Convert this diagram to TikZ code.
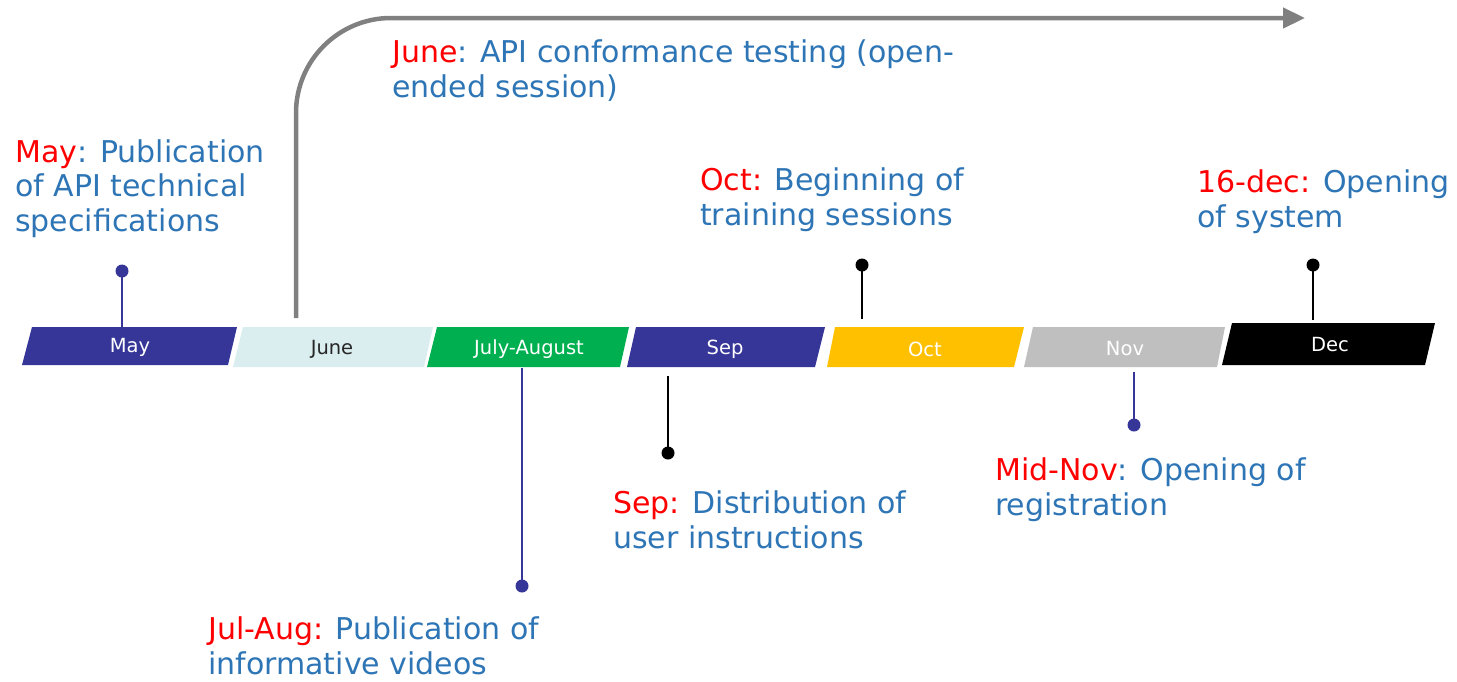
\documentclass[tikz,border=0pt]{standalone}
\usepackage{fontspec}
\setmainfont{DejaVu Sans}
\usetikzlibrary{arrows.meta}
\definecolor{navy}{HTML}{363699}
\definecolor{txtblue}{HTML}{2E75B6}
\definecolor{mred}{HTML}{FF0000}
\definecolor{green}{HTML}{00B050}
\definecolor{yellow}{HTML}{FFC000}
\definecolor{lightc}{HTML}{DAEDEF}
\definecolor{grayc}{HTML}{BFBFBF}
\definecolor{arrowgray}{HTML}{808080}
\newcommand{\mon}[1]{\textcolor{mred}{#1}}
\tikzset{
  lbl/.style={anchor=base west, inner sep=0pt, align=left, text=txtblue,
    font={\fontsize{30}{34.5}\selectfont}},
  monlbl/.style={inner sep=0pt, font={\fontsize{19.5}{22}\selectfont}, text=white},
  dotnav/.style={circle, fill=navy, inner sep=0pt, minimum size=13pt},
  dotblk/.style={circle, fill=black, inner sep=0pt, minimum size=13pt},
  stemnav/.style={draw=navy, line width=2.4pt},
  stemblk/.style={draw=black, line width=2.8pt},
}
\begin{document}
\begin{tikzpicture}[x=1pt, y=-1pt]
\useasboundingbox (0,0) rectangle (1457,681);
% bar segments
\fill[navy]   (32,327) -- (237,327) -- (228,365) -- (22,365) -- cycle;
\fill[lightc] (243,327) -- (433,327) -- (424,367) -- (233,367) -- cycle;
\fill[green]  (437,327) -- (629,327) -- (620,367) -- (427,367) -- cycle;
\fill[navy]   (636,327) -- (825,327) -- (815,367) -- (627,367) -- cycle;
\fill[yellow] (835,327) -- (1024,327) -- (1014,367) -- (827,367) -- cycle;
\fill[grayc]  (1033,327) -- (1225,327) -- (1217,367) -- (1024,367) -- cycle;
\fill[black]  (1232,323) -- (1435,323) -- (1425,365) -- (1222,365) -- cycle;
\node[monlbl] (mMay) at (130,347) {May};
\node[monlbl, text=black!85] (mJun) at (332,349) {June};
\node[monlbl] (mJul) at (529,349) {July-August};
\node[monlbl] (mSep) at (725,349) {Sep};
\node[monlbl] (mOct) at (925,349) {Oct};
\node[monlbl] (mNov) at (1125,349) {Nov};
\node[monlbl] (mDec) at (1330,345) {Dec};
% attachment points on the bar
\coordinate (mayTop) at (122,327);
\coordinate (junTop) at (296,318);
\coordinate (julBot) at (522,368);
\coordinate (sepBot) at (668,376);
\coordinate (octTop) at (862,319);
\coordinate (novBot) at (1134,372);
\coordinate (decTop) at (1313,320);
\coordinate (arrCorner) at (296,18);
\coordinate (arrEnd) at (1305,18);
% dots
\node[dotnav] (mayDot) at (122,271) {};
\node[dotnav] (julDot) at (522,586) {};
\node[dotblk] (sepDot) at (668,453) {};
\node[dotblk] (octDot) at (862,265) {};
\node[dotnav] (novDot) at (1134,425) {};
\node[dotblk] (decDot) at (1313,265) {};
% stems
\draw[stemnav] (mayDot.center) -- (mayTop);
\draw[stemnav] (julBot) -- (julDot.center);
\draw[stemblk] (sepBot) -- (sepDot.center);
\draw[stemblk] (octDot.center) -- (octTop);
\draw[stemnav] (novBot) -- (novDot.center);
\draw[stemblk] (decDot.center) -- (decTop);
% June arrow
\draw[arrowgray, line width=4.5pt, rounded corners=95pt,
  -{Triangle[length=22pt, width=20pt]}] (junTop) -- (arrCorner) -- (arrEnd);
% labels (anchor = baseline of the last line)
\node[lbl] (tMay) at (15,231) {\mon{May}: Publication\\of API technical\\specifications};
\node[lbl] (tJun) at (392,97) {\mon{June}: API conformance testing (open-\\ended session)};
\node[lbl] (tOct) at (700,225) {\mon{Oct:} Beginning of\\training sessions};
\node[lbl] (tDec) at (1197,227) {\mon{16-dec:} Opening\\of system};
\node[lbl] (tSep) at (613,548) {\mon{Sep:} Distribution of\\user instructions};
\node[lbl] (tNov) at (995,515) {\mon{Mid-Nov}: Opening of\\registration};
\node[lbl] (tJul) at (208,674) {\mon{Jul-Aug:} Publication of\\informative videos};
\end{tikzpicture}
\end{document}
